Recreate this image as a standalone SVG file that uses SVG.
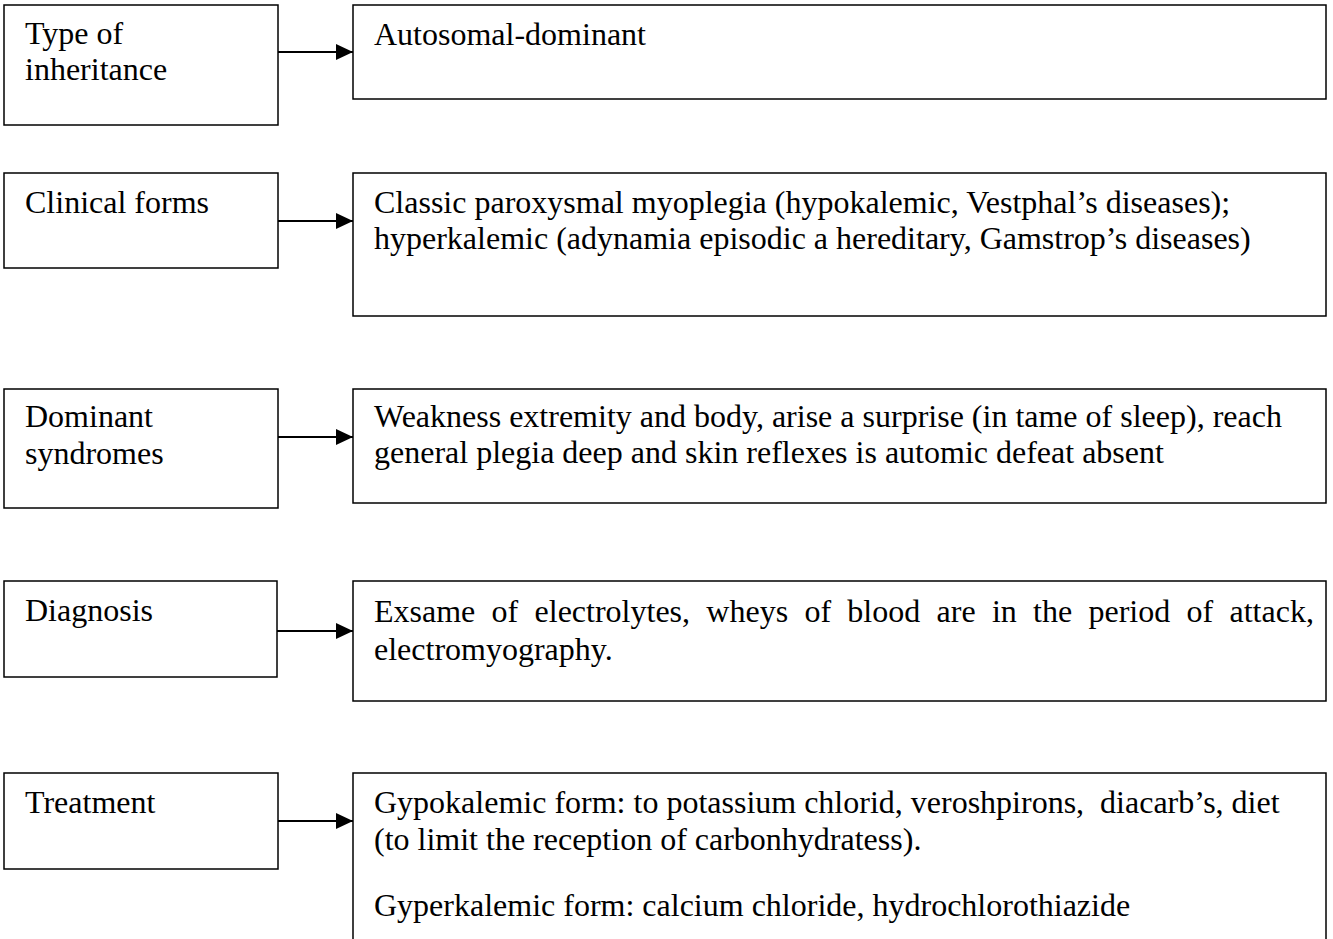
<svg xmlns="http://www.w3.org/2000/svg" width="1333" height="939" viewBox="0 0 1333 939">
  <style>
    .box { fill: #ffffff; stroke: #000000; stroke-width: 1.5; }
    .lbl { font-family: "Liberation Serif", "Times New Roman", serif; font-size: 32px; fill: #000000; }
    .link { stroke: #000000; stroke-width: 2; fill: none; }
  </style>
  <defs>
    <marker id="arrow" markerWidth="17" markerHeight="16" refX="17" refY="8" orient="auto" markerUnits="userSpaceOnUse">
      <path d="M0,0 L17,8 L0,16 Z" fill="#000000"/>
    </marker>
  </defs>
  <rect width="1333" height="939" fill="#ffffff"/>

  <!-- Type of inheritance -->
  <g id="inheritance">
    <rect class="box" x="4" y="5" width="274" height="120"/>
    <text class="lbl" x="25" y="44">Type of</text>
    <text class="lbl" x="25" y="80">inheritance</text>
  </g>
  <g id="inheritance-detail">
    <rect class="box" x="353" y="5" width="973" height="94"/>
    <text class="lbl" x="374" y="45">Autosomal-dominant</text>
  </g>

  <!-- Clinical forms -->
  <g id="clinical">
    <rect class="box" x="4" y="173" width="274" height="95"/>
    <text class="lbl" x="25" y="213">Clinical forms</text>
  </g>
  <g id="clinical-detail">
    <rect class="box" x="353" y="173" width="973" height="143"/>
    <text class="lbl" x="374" y="213">Classic paroxysmal myoplegia (hypokalemic, Vestphal’s diseases);</text>
    <text class="lbl" x="374" y="249">hyperkalemic (adynamia episodic a hereditary, Gamstrop’s diseases)</text>
  </g>

  <!-- Dominant syndromes -->
  <g id="syndromes">
    <rect class="box" x="4" y="389" width="274" height="119"/>
    <text class="lbl" x="25" y="427">Dominant</text>
    <text class="lbl" x="25" y="464">syndromes</text>
  </g>
  <g id="syndromes-detail">
    <rect class="box" x="353" y="389" width="973" height="114"/>
    <text class="lbl" x="374" y="427">Weakness extremity and body, arise a surprise (in tame of sleep), reach</text>
    <text class="lbl" x="374" y="463">general plegia deep and skin reflexes is automic defeat absent</text>
  </g>

  <!-- Diagnosis -->
  <g id="diagnosis">
    <rect class="box" x="4" y="581" width="273" height="96"/>
    <text class="lbl" x="25" y="621">Diagnosis</text>
  </g>
  <g id="diagnosis-detail">
    <rect class="box" x="353" y="581" width="973" height="120"/>
    <text class="lbl" x="374" y="622" word-spacing="8.3">Exsame of electrolytes, wheys of blood are in the period of attack,</text>
    <text class="lbl" x="374" y="660">electromyography.</text>
  </g>

  <!-- Treatment -->
  <g id="treatment">
    <rect class="box" x="4" y="773" width="274" height="96"/>
    <text class="lbl" x="25" y="813">Treatment</text>
  </g>
  <g id="treatment-detail">
    <rect class="box" x="353" y="773" width="973" height="180"/>
    <text class="lbl" x="374" y="813" xml:space="preserve">Gypokalemic form: to potassium chlorid, veroshpirons,  diacarb’s, diet</text>
    <text class="lbl" x="374" y="850">(to limit the reception of carbonhydratess).</text>
    <text class="lbl" x="374" y="916">Gyperkalemic form: calcium chloride, hydrochlorothiazide</text>
  </g>

  <!-- Connectors -->
  <g id="connectors">
    <line class="link" x1="278" y1="52" x2="353" y2="52" marker-end="url(#arrow)"/>
    <line class="link" x1="278" y1="221" x2="353" y2="221" marker-end="url(#arrow)"/>
    <line class="link" x1="278" y1="437" x2="353" y2="437" marker-end="url(#arrow)"/>
    <line class="link" x1="277" y1="631" x2="353" y2="631" marker-end="url(#arrow)"/>
    <line class="link" x1="278" y1="821" x2="353" y2="821" marker-end="url(#arrow)"/>
  </g>
</svg>
